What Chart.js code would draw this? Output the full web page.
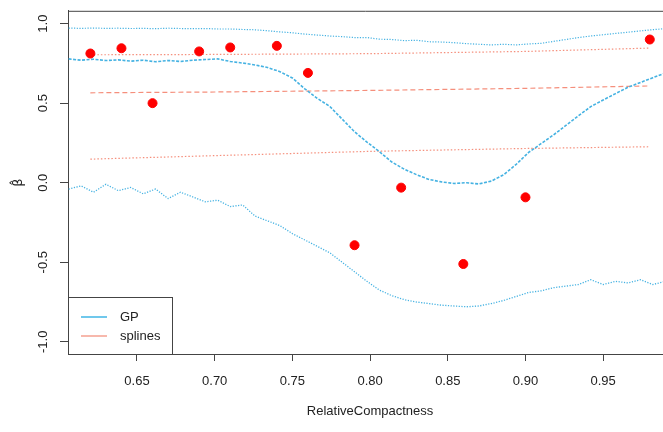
<!DOCTYPE html>
<html>
<head>
<meta charset="utf-8">
<script src="https://cdn.jsdelivr.net/npm/chart.js@4.4.0/dist/chart.umd.min.js"></script>
<style>
  html, body { margin: 0; padding: 0; background: #fff; }
  #wrap { width: 663px; height: 432px; }
</style>
</head>
<body>
<div id="wrap"><canvas id="chart"></canvas></div>
<script>
// ================= DATA =================
var compactness = [0.62, 0.64, 0.66, 0.69, 0.71, 0.74, 0.76, 0.79, 0.82, 0.86, 0.90, 0.98];
var betaHat = [0.812, 0.845, 0.50, 0.825, 0.85, 0.86, 0.69, -0.393, -0.031, -0.511, -0.092, 0.90];

var gpX = [0.606, 0.614, 0.622, 0.630, 0.638, 0.646, 0.654, 0.662, 0.670, 0.678,
  0.686, 0.694, 0.702, 0.710, 0.718, 0.726, 0.734, 0.742, 0.750, 0.758,
  0.766, 0.774, 0.782, 0.790, 0.798, 0.806, 0.814, 0.822, 0.830, 0.838,
  0.846, 0.854, 0.862, 0.870, 0.878, 0.886, 0.894, 0.902, 0.910, 0.918,
  0.926, 0.934, 0.942, 0.950, 0.958, 0.966, 0.974, 0.982, 0.990];
var gpUpper = [0.972, 0.970, 0.972, 0.970, 0.971, 0.969, 0.970, 0.968, 0.971, 0.969,
  0.968, 0.969, 0.966, 0.966, 0.963, 0.961, 0.955, 0.948, 0.942, 0.934,
  0.928, 0.922, 0.918, 0.912, 0.912, 0.902, 0.900, 0.893, 0.895, 0.886,
  0.884, 0.880, 0.874, 0.870, 0.866, 0.870, 0.866, 0.872, 0.876, 0.888,
  0.900, 0.912, 0.922, 0.930, 0.938, 0.946, 0.954, 0.962, 0.968];
var gpMean = [0.778, 0.770, 0.776, 0.768, 0.772, 0.764, 0.770, 0.760, 0.768, 0.762,
  0.770, 0.774, 0.778, 0.762, 0.752, 0.740, 0.724, 0.698, 0.658, 0.590,
  0.530, 0.480, 0.400, 0.320, 0.255, 0.195, 0.130, 0.085, 0.050, 0.020,
  0.005, -0.005, 0.000, -0.008, 0.010, 0.050, 0.115, 0.190, 0.245, 0.300,
  0.360, 0.420, 0.478, 0.520, 0.560, 0.600, 0.630, 0.660, 0.690];
var gpLower = [-0.040, -0.020, -0.060, -0.010, -0.050, -0.030, -0.070, -0.040, -0.100, -0.060,
  -0.090, -0.120, -0.110, -0.150, -0.140, -0.210, -0.240, -0.270, -0.320, -0.360,
  -0.400, -0.440, -0.500, -0.560, -0.620, -0.675, -0.710, -0.735, -0.750, -0.760,
  -0.770, -0.775, -0.780, -0.775, -0.760, -0.740, -0.715, -0.690, -0.680, -0.660,
  -0.650, -0.640, -0.610, -0.640, -0.620, -0.630, -0.610, -0.640, -0.620];

var splX = [0.62, 0.70, 0.80, 0.90, 0.98];
var splUpper = [0.804, 0.806, 0.811, 0.825, 0.846];
var splMean = [0.565, 0.570, 0.580, 0.593, 0.608];
var splLower = [0.148, 0.170, 0.197, 0.215, 0.226];

var xTicks = [0.65, 0.70, 0.75, 0.80, 0.85, 0.90, 0.95];
var yTicks = [-1.0, -0.5, 0.0, 0.5, 1.0];

// ================= STYLE =================
var GP_COLOR = "#45b2e2";
var SPL_COLOR = "#f58f7c";
var AXIS_COLOR = "#444";
var FONT = "'Liberation Sans', Arial, sans-serif";

function pairs(xs, ys) {
  return xs.map(function (x, i) { return { x: x, y: ys[i] }; });
}

function lineSet(xs, ys, color, dash, width) {
  return {
    data: pairs(xs, ys),
    showLine: true,
    borderColor: color,
    borderWidth: width,
    borderDash: dash,
    pointRadius: 0,
    fill: false,
    tension: 0,
    order: 2
  };
}

// ================= R STYLE DECORATION =================
var rDecor = {
  id: "rDecor",
  afterDraw: function (chart) {
    var ctx = chart.ctx;
    var a = chart.chartArea;
    var xs = chart.scales.x;
    var ys = chart.scales.y;
    ctx.save();

    // top edge of the box
    ctx.strokeStyle = AXIS_COLOR;
    ctx.lineWidth = 1;
    ctx.beginPath();
    ctx.moveTo(a.left, a.top + 0.5);
    ctx.lineTo(a.right, a.top + 0.5);
    ctx.stroke();

    // rotated y tick labels
    ctx.fillStyle = "#222";
    ctx.font = "13px " + FONT;
    ctx.textAlign = "center";
    ctx.textBaseline = "middle";
    yTicks.forEach(function (v) {
      ctx.save();
      ctx.translate(43, ys.getPixelForValue(v));
      ctx.rotate(-Math.PI / 2);
      ctx.fillText(v.toFixed(1), 0, 0);
      ctx.restore();
    });

    // y title
    ctx.save();
    ctx.translate(19, ys.getPixelForValue(0));
    ctx.rotate(-Math.PI / 2);
    ctx.font = "13px 'DejaVu Sans', sans-serif";
    ctx.fillText("\u03B2\u0302", 0, 0);
    ctx.restore();

    // x title
    ctx.fillText("RelativeCompactness", xs.getPixelForValue(0.80), 411);

    // legend
    var lx = a.left, lw = 104, lh = 57, ly = a.bottom - lh;
    ctx.fillStyle = "#fff";
    ctx.fillRect(lx, ly, lw, lh);
    ctx.strokeStyle = AXIS_COLOR;
    ctx.strokeRect(lx + 0.5, ly + 0.5, lw, lh);
    ctx.lineWidth = 1.5;
    ctx.strokeStyle = "#41b6e6";
    ctx.beginPath(); ctx.moveTo(lx + 13, ly + 20); ctx.lineTo(lx + 39, ly + 20); ctx.stroke();
    ctx.strokeStyle = "#f4a090";
    ctx.beginPath(); ctx.moveTo(lx + 13, ly + 39); ctx.lineTo(lx + 39, ly + 39); ctx.stroke();
    ctx.fillStyle = "#222";
    ctx.textAlign = "left";
    ctx.fillText("GP", lx + 52, ly + 20);
    ctx.fillText("splines", lx + 52, ly + 39);

    ctx.restore();
  }
};

// ================= CHART =================
var ctxChart = document.getElementById("chart").getContext("2d");
var chart = new Chart(ctxChart, {
  type: "scatter",
  data: {
    datasets: [
      {
        data: pairs(compactness, betaHat),
        backgroundColor: "#ff0000",
        borderColor: "#ff0000",
        pointRadius: 4.5,
        pointHoverRadius: 4.5,
        order: 0
      },
      lineSet(gpX, gpUpper, GP_COLOR, [1.2, 1.5], 1.2),
      lineSet(gpX, gpMean, GP_COLOR, [3, 1.5], 1.6),
      lineSet(gpX, gpLower, GP_COLOR, [1.2, 1.5], 1.3),
      lineSet(splX, splUpper, SPL_COLOR, [1.5, 2], 1.2),
      lineSet(splX, splMean, SPL_COLOR, [5, 3], 1.2),
      lineSet(splX, splLower, SPL_COLOR, [1.5, 2], 1.2)
    ]
  },
  options: {
    responsive: true,
    maintainAspectRatio: false,
    devicePixelRatio: 1,
    animation: false,
    layout: { autoPadding: false, padding: { top: 8, right: 0, left: 0, bottom: 0 } },
    plugins: {
      legend: { display: false },
      tooltip: { enabled: false }
    },
    scales: {
      x: {
        type: "linear",
        min: 0.6056,
        max: 0.9885,
        afterBuildTicks: function (s) { s.ticks = xTicks.map(function (v) { return { value: v }; }); },
        afterFit: function (s) { s.height = 78; },
        grid: { drawOnChartArea: false, drawTicks: true, tickLength: 7, color: AXIS_COLOR },
        border: { display: true, color: AXIS_COLOR },
        ticks: {
          color: "#222",
          font: { family: FONT, size: 13 },
          padding: 13,
          maxRotation: 0,
          callback: function (v) { return v.toFixed(2); }
        }
      },
      y: {
        min: -1.0767,
        max: 1.0804,
        afterBuildTicks: function (s) { s.ticks = yTicks.map(function (v) { return { value: v }; }); },
        afterFit: function (s) { s.width = 68; },
        grid: { drawOnChartArea: false, drawTicks: true, tickLength: 8, color: AXIS_COLOR },
        border: { display: true, color: AXIS_COLOR },
        ticks: { color: "rgba(0,0,0,0)", font: { family: FONT, size: 13 } }
      }
    }
  },
  plugins: [rDecor]
});
</script>
</body>
</html>
